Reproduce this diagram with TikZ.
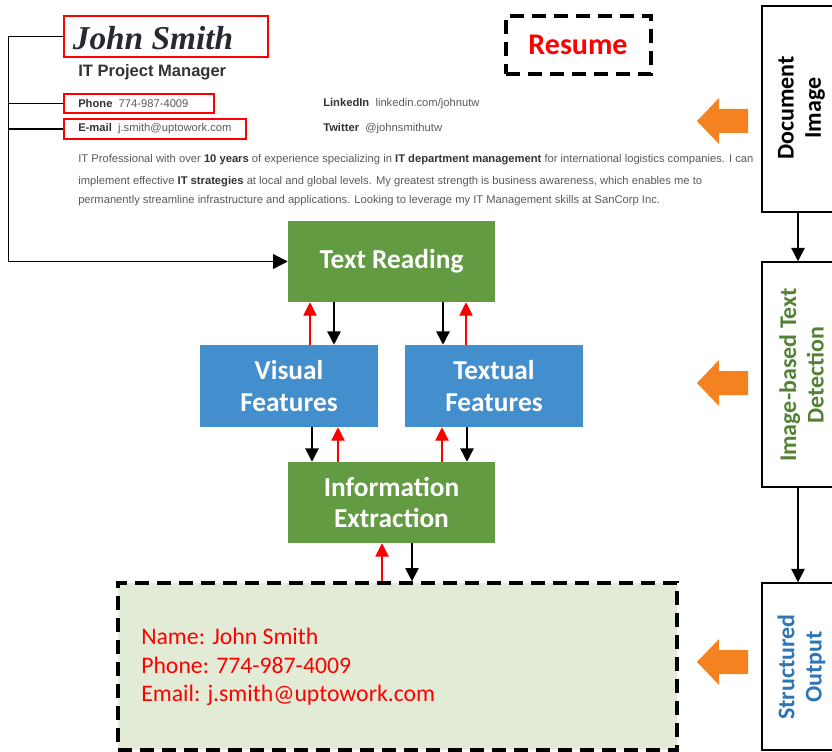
\documentclass[tikz,border=0pt]{standalone}
\usepackage{fontspec}
\setmainfont{Carlito}
\newfontfamily\arialf{Liberation Sans}
\newfontfamily\seriff{Liberation Serif}
\usetikzlibrary{arrows.meta,calc,fit}
\definecolor{boxgreen}{RGB}{99,155,67}
\definecolor{boxblue}{RGB}{67,142,205}
\definecolor{arrorange}{RGB}{245,130,32}
\definecolor{outfill}{RGB}{226,235,214}
\definecolor{detgreen}{RGB}{84,130,53}
\definecolor{strblue}{RGB}{46,117,182}
\definecolor{darktxt}{RGB}{51,51,51}
\definecolor{paratxt}{RGB}{90,90,90}
\definecolor{johncol}{RGB}{40,40,50}
\newcommand{\pbold}[1]{\textcolor{darktxt}{\bfseries #1}}
\begin{document}
\begin{tikzpicture}[x=0.75pt,y=-0.75pt,
  gbox/.style={fill=boxgreen, draw=none, inner sep=0pt, text=white, align=center,
    font=\bfseries\fontsize{20.5}{23.5}\selectfont},
  bbox/.style={gbox, fill=boxblue},
  sidebox/.style={draw=black, line width=1.1pt, inner sep=0pt},
  sidetxt/.style={rotate=90, align=center, font=\bfseries\fontsize{18}{20.5}\selectfont},
  redbox/.style={draw=red, line width=1.9pt, inner sep=0pt},
  dashbox/.style={draw=black, line width=2.5pt, dash pattern=on 10.5pt off 6pt, inner sep=0pt},
  blk/.style={-{Triangle[width=10pt,length=10pt]}, line width=1.1pt},
  redarr/.style={-{Triangle[width=10pt,length=10pt]}, draw=red, line width=0.8pt},
  para/.style={anchor=west, inner sep=0pt, text=paratxt, font=\arialf\fontsize{8.4}{10}\selectfont},
  small/.style={anchor=west, inner sep=0pt, text=paratxt, font=\arialf\fontsize{8.4}{10}\selectfont},
  oarr/.pic={\fill[arrorange] (-51,0) -- (-29,-23) -- (-29,-12) -- (0,-12) -- (0,12) -- (-29,12) -- (-29,23) -- cycle;}
]
\useasboundingbox (0,0) rectangle (832,752);
\clip (0,0) rectangle (832,752);

% resume header
\node[redbox, fit={(64,16)(268,57)}] (jsbox) {};
\node[text=johncol, font=\seriff\bfseries\itshape\fontsize{25}{30}\selectfont] (jsname) at (153,38) {John Smith};
\node[anchor=west, inner sep=0pt, text=darktxt, font=\arialf\bfseries\fontsize{12.4}{14}\selectfont] (role) at (78,72) {IT Project Manager};
\node[redbox, fit={(64,94)(214,113)}] (phbox) {};
\node[small] (phone) at (78,103.5) {\pbold{Phone}\ \ 774-987-4009};
\node[redbox, fit={(64,119)(246,139)}] (embox) {};
\node[small] (email) at (78,129) {\pbold{E-mail}\ \ j.smith@uptowork.com};
\node[small] (linked) at (323,103.5) {\pbold{LinkedIn}\ \ linkedin.com/johnutw};
\node[small] (twit) at (323,129) {\pbold{Twitter}\ \ @johnsmithutw};
\node[para] (p1) at (78,160) {IT Professional with over \pbold{10 years} of experience specializing in \pbold{IT department management} for international logistics companies. I can};
\node[para] (p2) at (78,182) {implement effective \pbold{IT strategies} at local and global levels. My greatest strength is business awareness, which enables me to};
\node[para] (p3) at (78,201) {permanently streamline infrastructure and applications. Looking to leverage my IT Management skills at SanCorp Inc.};

% Resume tag
\node[dashbox, fit={(506,16)(651,74)}] (resbox) {};
\node[text=red, font=\bfseries\fontsize{22.5}{26}\selectfont] (restxt) at (578,45) {Resume};

% central pipeline
\node[gbox, minimum width=207*0.75pt, minimum height=81*0.75pt] (tr) at (391.5,261.5) {Text Reading};
\node[bbox, minimum width=178*0.75pt, minimum height=82*0.75pt] (vf) at (289,386) {Visual\\Features};
\node[bbox, minimum width=178*0.75pt, minimum height=82*0.75pt] (tf) at (494,386) {Textual\\Features};
\node[gbox, minimum width=207*0.75pt, minimum height=81*0.75pt] (ie) at (391.5,502.5) {Information\\Extraction};

% output
\node[dashbox, fill=outfill, fit={(118,583)(677,750)}] (out) {};
\node[anchor=west, inner sep=0pt, align=left, text=red, font=\fontsize{17.8}{21.3}\selectfont] (outtxt) at (141,667) {Name: John Smith\\Phone: 774-987-4009\\Email: j.smith@uptowork.com};

% right column
\node[sidebox, fit={(762,6)(834,212)}] (di) {};
\node[sidetxt] (ditxt) at (801.5,108) {Document\\Image};
\node[sidebox, fit={(762,262)(834,487)}] (itd) {};
\node[sidetxt, text=detgreen] (itdtxt) at (801.5,375) {Image-based Text\\Detection};
\node[sidebox, fit={(762,583)(834,750)}] (so) {};
\node[sidetxt, text=strblue] (sotxt) at (801.5,667) {Structured\\Output};
\draw[blk] (di.south) -- (itd.north);
\draw[blk] (itd.south) -- (so.north);

% orange arrows
\pic at (748,121) {oarr};
\pic at (748,383) {oarr};
\pic at (748,662) {oarr};

% left connectors
\draw[-{Triangle[width=11pt,length=11pt]}, line width=1pt] (jsbox.west) -- ++(-54,0) |- (tr.west);
\draw[line width=1pt] (phbox.west) -- ++(-54,0);
\draw[line width=1pt] (embox.west) -- ++(-54,0);

% pipeline arrows
\draw[redarr] ($(vf.north)+(21,0)$) -- ($(tr.south)+(-81.5,0)$);
\draw[blk] ($(tr.south)+(-57.5,0)$) -- ($(vf.north)+(45,0)$);
\draw[blk] ($(tr.south)+(51.5,0)$) -- ($(tf.north)+(-51,0)$);
\draw[redarr] ($(tf.north)+(-28,0)$) -- ($(tr.south)+(74.5,0)$);
\draw[blk] ($(vf.south)+(23,0)$) -- ($(ie.north)+(-79.5,0)$);
\draw[redarr] ($(ie.north)+(-53.5,0)$) -- ($(vf.south)+(49,0)$);
\draw[redarr] ($(ie.north)+(50.5,0)$) -- ($(tf.south)+(-52,0)$);
\draw[blk] ($(tf.south)+(-27,0)$) -- ($(ie.north)+(75.5,0)$);
\draw[redarr] ($(out.north)+(-15.5,0)$) -- ($(ie.south)+(-9.5,0)$);
\draw[blk] ($(ie.south)+(20.5,0)$) -- ($(out.north)+(14.5,0)$);
\end{tikzpicture}
\end{document}
